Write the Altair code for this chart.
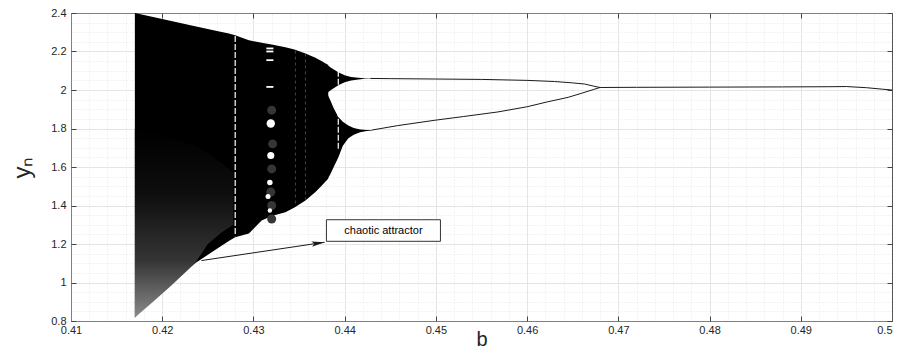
import altair as alt
import pandas as pd

W, H = 821, 308
FONT = "Liberation Sans"

# ---- axis ticks ----
x_major = [0.41, 0.42, 0.43, 0.44, 0.45, 0.46, 0.47, 0.48, 0.49, 0.5]
y_major = [0.8, 1.0, 1.2, 1.4, 1.6, 1.8, 2.0, 2.2, 2.4]
x_minor = [round(0.41 + 0.002 * i, 3) for i in range(46)]
y_minor = [round(0.8 + 0.05 * i, 2) for i in range(33)]

# ---- chaotic region envelopes ----
main_b   = [0.4170, 0.4200, 0.4236, 0.4260, 0.4273, 0.4280, 0.4295, 0.4309, 0.4320, 0.4335, 0.4345, 0.4357, 0.4368, 0.4375, 0.4382]
main_top = [2.400, 2.369, 2.331, 2.306, 2.294, 2.285, 2.259, 2.245, 2.236, 2.222, 2.211, 2.190, 2.168, 2.150, 2.130]
main_bot = [0.818, 0.975, 1.100, 1.175, 1.215, 1.235, 1.254, 1.322, 1.345, 1.365, 1.390, 1.426, 1.470, 1.504, 1.540]

ub_b   = [0.4380, 0.4385, 0.4393, 0.4400, 0.4407, 0.4415, 0.4422, 0.4428]
ub_top = [2.134, 2.115, 2.092, 2.076, 2.068, 2.063, 2.061, 2.060]
ub_bot = [1.982, 2.000, 2.025, 2.040, 2.050, 2.055, 2.058, 2.059]

lb_b   = [0.4380, 0.4384, 0.4388, 0.4393, 0.4398, 0.4404, 0.4410, 0.4417, 0.4424, 0.4430]
lb_top = [1.990, 1.950, 1.905, 1.860, 1.835, 1.815, 1.803, 1.795, 1.792, 1.792]
lb_bot = [1.528, 1.560, 1.600, 1.650, 1.710, 1.750, 1.768, 1.780, 1.787, 1.790]

# sparse (speckled) lower-left part
sp_b   = [0.4170, 0.4190, 0.4210, 0.4236, 0.4250, 0.4265, 0.4278]
sp_top = [1.80, 1.78, 1.75, 1.71, 1.67, 1.62, 1.57]
sp_bot = [0.818, 0.900, 0.985, 1.100, 1.200, 1.260, 1.300]

# ---- periodic branches ----
up_b  = [0.4428, 0.4450, 0.4500, 0.4550, 0.4600, 0.4630, 0.4650, 0.4663, 0.4673, 0.4680]
up_y  = [2.060, 2.059, 2.057, 2.055, 2.050, 2.044, 2.037, 2.031, 2.020, 2.013]
low_b = [0.4430, 0.4458, 0.4499, 0.4530, 0.4568, 0.4600, 0.4622, 0.4645, 0.4659, 0.4673, 0.4680]
low_y = [1.792, 1.815, 1.843, 1.862, 1.886, 1.913, 1.938, 1.962, 1.982, 2.003, 2.013]
one_b = [0.4680, 0.4720, 0.4800, 0.4880, 0.4930, 0.4950, 0.4972, 0.4990, 0.5000]
one_y = [2.013, 2.014, 2.015, 2.016, 2.017, 2.018, 2.012, 2.004, 2.000]

# ---- windows / streaks inside chaos ----
wl_b   = [0.4280, 0.4393]
wl_top = [2.280, 2.100]
wl_bot = [1.240, 1.690]
gl_b   = [0.4346, 0.4357]
gl_top = [2.205, 2.190]
gl_bot = [1.400, 1.430]
spot_b = [0.4319, 0.4319, 0.4318, 0.4316, 0.4318]
spot_y = [1.826, 1.660, 1.520, 1.447, 1.374]
spot_s = [70, 50, 30, 25, 20]
blob_b = [0.4320, 0.4321, 0.4320, 0.4319, 0.4320, 0.4320]
blob_y = [1.895, 1.720, 1.590, 1.470, 1.400, 1.330]
dash_b = [0.4318, 0.4318, 0.4318, 0.4318]
dash_y = [2.216, 2.200, 2.155, 2.016]

# ---- annotation ----
arrow_b = [0.4243, 0.4378]
arrow_y = [1.114, 1.209]
box_b = [0.4380, 0.4505]
box_y = [1.326, 1.214]
label = "chaotic attractor"

xs = alt.Scale(domain=[0.41, 0.5], nice=False, zero=False)
ys = alt.Scale(domain=[0.8, 2.4], nice=False, zero=False)

def seg(name, b, t, bt):
    return pd.DataFrame({"b": b, "top": t, "bot": bt, "seg": name})

chaos = pd.concat([seg("main", main_b, main_top, main_bot),
                   seg("upper", ub_b, ub_top, ub_bot),
                   seg("lower", lb_b, lb_top, lb_bot)])
speck = seg("sp", sp_b, sp_top, sp_bot)
branches = pd.concat([
    pd.DataFrame({"b": up_b, "y": up_y, "seg": "up"}),
    pd.DataFrame({"b": low_b, "y": low_y, "seg": "low"}),
    pd.DataFrame({"b": one_b, "y": one_y, "seg": "one"}),
])

ax_x_main = alt.Axis(orient="bottom", values=x_major, format="~g", grid=True,
                     gridColor="#e4e4e4", ticks=False, domain=True, domainColor="#808080",
                     labelFont=FONT, labelFontSize=11, labelColor="#262626", labelFlush=False,
                     labelAlign={"expr": "datum.value >= 0.5 ? 'right' : 'center'"},
                     labelPadding=3, title="b", titleFont=FONT, titleFontSize=20,
                     titleFontWeight="normal", titleColor="#262626",
                     titleBaseline="alphabetic", titleY=24)
ax_y_main = alt.Axis(orient="left", values=y_major, format="~g", grid=True,
                     gridColor="#e4e4e4", ticks=False, domain=True, domainColor="#808080",
                     labelFont=FONT, labelFontSize=11, labelColor="#262626", labelFlush=False,
                     labelPadding=5, title="yₙ", titleFont=FONT, titleFontSize=24,
                     titleFontWeight="normal", titleColor="#262626", titlePadding=16)
ax_x_minor = alt.Axis(orient="top", values=x_minor, grid=True, gridColor="#e6e6e6",
                      gridDash=[1, 2], labels=False, ticks=False, domain=True,
                      domainColor="#808080", title=None)
ax_y_minor = alt.Axis(orient="right", values=y_minor, grid=True, gridColor="#e6e6e6",
                      gridDash=[1, 2], labels=False, ticks=False, domain=True,
                      domainColor="#555555", title=None)
ax_x_in_bottom = alt.Axis(orient="top", offset=-H, values=x_major, grid=False, labels=False,
                          ticks=True, tickSize=5, tickColor="#444444", domain=False, title=None)
ax_y_in_left = alt.Axis(orient="right", offset=-W, values=y_major, grid=False, labels=False,
                        ticks=True, tickSize=5, tickColor="#444444", domain=False, title=None)
ax_x_in_top = alt.Axis(orient="bottom", offset=-H, values=x_major, grid=False, labels=False,
                       ticks=True, tickSize=5, tickColor="#444444", domain=False, title=None)
ax_y_in_right = alt.Axis(orient="left", offset=-W, values=y_major, grid=False, labels=False,
                         ticks=True, tickSize=5, tickColor="#444444", domain=False, title=None)

chaos_layer = alt.Chart(chaos).mark_area(color="black", opacity=1, interpolate="linear").encode(
    x=alt.X("b:Q", scale=xs, axis=ax_x_main),
    y=alt.Y("top:Q", scale=ys, axis=ax_y_main),
    y2="bot:Q",
    detail="seg:N",
)

grad = alt.Gradient(gradient="linear", x1=0, x2=0, y1=0, y2=1, stops=[
    alt.GradientStop(color="#000000", offset=0),
    alt.GradientStop(color="#0e0e0e", offset=0.35),
    alt.GradientStop(color="#353535", offset=0.7),
    alt.GradientStop(color="#8a8a8a", offset=1),
])
speck_layer = alt.Chart(speck).mark_area(color=grad).encode(
    x=alt.X("b:Q", scale=xs, axis=ax_x_minor),
    y=alt.Y("top:Q", scale=ys, axis=ax_y_minor),
    y2="bot:Q",
)

wl = pd.DataFrame({"b": wl_b, "top": wl_top, "bot": wl_bot})
white_lines = alt.Chart(wl).mark_rule(color="white", strokeWidth=1.2, strokeDash=[6, 2]).encode(
    x=alt.X("b:Q", scale=xs, axis=None), y=alt.Y("top:Q", scale=ys, axis=None), y2="bot:Q")
gl = pd.DataFrame({"b": gl_b, "top": gl_top, "bot": gl_bot})
gray_lines = alt.Chart(gl).mark_rule(color="#555555", strokeWidth=0.8, strokeDash=[3, 3]).encode(
    x=alt.X("b:Q", scale=xs, axis=None), y=alt.Y("top:Q", scale=ys, axis=None), y2="bot:Q")

blobs = alt.Chart(pd.DataFrame({"b": blob_b, "y": blob_y})).mark_point(
    filled=True, color="#363636", opacity=1, size=80, shape="circle").encode(
    x=alt.X("b:Q", scale=xs, axis=None), y=alt.Y("y:Q", scale=ys, axis=None))
spots = alt.Chart(pd.DataFrame({"b": spot_b, "y": spot_y, "s": spot_s})).mark_point(
    filled=True, color="white", opacity=1, shape="circle").encode(
    x=alt.X("b:Q", scale=xs, axis=None), y=alt.Y("y:Q", scale=ys, axis=None),
    size=alt.Size("s:Q", scale=None, legend=None))
dashes = alt.Chart(pd.DataFrame({"b": dash_b, "y": dash_y})).mark_point(
    filled=True, color="white", opacity=1, size=50,
    shape="M-1,-0.25L1,-0.25L1,0.25L-1,0.25Z").encode(
    x=alt.X("b:Q", scale=xs, axis=None), y=alt.Y("y:Q", scale=ys, axis=None))

branch_layer = alt.Chart(branches).mark_line(color="#1a1a1a", strokeWidth=1).encode(
    x=alt.X("b:Q", scale=xs, axis=ax_x_in_bottom),
    y=alt.Y("y:Q", scale=ys, axis=ax_y_in_left),
    detail="seg:N",
    order="b:Q",
)

arrow_df = pd.DataFrame({"b0": [arrow_b[0]], "y0": [arrow_y[0]], "b1": [arrow_b[1]], "y1": [arrow_y[1]]})
arrow_line = alt.Chart(arrow_df).mark_rule(color="#1a1a1a", strokeWidth=1).encode(
    x=alt.X("b0:Q", scale=xs, axis=ax_x_in_top),
    y=alt.Y("y0:Q", scale=ys, axis=ax_y_in_right),
    x2="b1:Q", y2="y1:Q")
arrow_head = alt.Chart(arrow_df).mark_point(
    filled=True, color="#1a1a1a", opacity=1, size=676, angle=351.6,
    shape="M0,0L-1,-0.2L-0.8,0L-1,0.2Z").encode(
    x=alt.X("b1:Q", scale=xs, axis=None), y=alt.Y("y1:Q", scale=ys, axis=None))

box_df = pd.DataFrame({"b0": [box_b[0]], "b1": [box_b[1]], "y0": [box_y[0]], "y1": [box_y[1]],
                       "bc": [(box_b[0] + box_b[1]) / 2], "yc": [(box_y[0] + box_y[1]) / 2],
                       "t": [label]})
box = alt.Chart(box_df).mark_rect(fill="white", stroke="#333333", strokeWidth=1).encode(
    x=alt.X("b0:Q", scale=xs, axis=None), x2="b1:Q",
    y=alt.Y("y0:Q", scale=ys, axis=None), y2="y1:Q")
box_text = alt.Chart(box_df).mark_text(font=FONT, fontSize=11, color="black",
                                      align="center", baseline="middle").encode(
    x=alt.X("bc:Q", scale=xs, axis=None), y=alt.Y("yc:Q", scale=ys, axis=None), text="t:N")

chart = alt.layer(
    chaos_layer, speck_layer, white_lines, gray_lines, blobs, spots, dashes,
    branch_layer, arrow_line, arrow_head, box, box_text,
).resolve_axis(x="independent", y="independent").properties(
    width=W, height=H,
    autosize=alt.AutoSizeParams(type="none"),
    padding={"left": 63, "top": 5, "right": 1, "bottom": 27},
    background="white",
).configure_view(strokeWidth=0)

chart.save("out.html", embed_options={"renderer": "svg", "actions": False})
